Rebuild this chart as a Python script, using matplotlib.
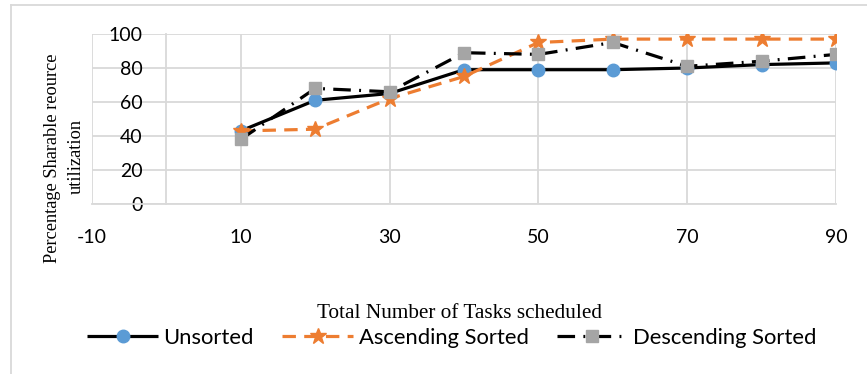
import matplotlib
matplotlib.use("Agg")
import matplotlib.pyplot as plt
from matplotlib.lines import Line2D

plt.rcParams["axes.unicode_minus"] = False

tasks = [10, 20, 30, 40, 50, 60, 70, 80, 90]
unsorted = [43, 61, 65, 79, 79, 79, 80, 82, 83]
ascending = [43, 44, 62, 75, 95, 97, 97, 97, 97]
descending = [38, 68, 66, 89, 88, 95, 81, 84, 88]
series_names = ["Unsorted", "Ascending Sorted", "Descending Sorted"]
x_ticks = [-10, 10, 30, 50, 70, 90]
y_ticks = [0, 20, 40, 60, 80, 100]
ylabel_lines = ["Percentage Sharable reource", "utilization"]
xlabel = "Total Number of Tasks scheduled"

BLUE = "#5B9BD5"
ORANGE = "#ED7D31"
GRAY = "#A5A5A5"
GRID = "#D9D9D9"

fig = plt.figure(figsize=(8.67, 3.74), dpi=100)
ax = fig.add_axes([92/867, 1-204/374, (836-92)/867, (204-34)/374])

ax.plot(tasks, unsorted, color="black", lw=2.3, marker="o", ms=9,
        mfc=BLUE, mec=BLUE, label=series_names[0], zorder=3, solid_capstyle="butt")
ax.plot(tasks, ascending, color=ORANGE, lw=2.3, ls=(0, (4.2, 2.6)), marker="*", ms=12,
        mfc=ORANGE, mec=ORANGE, label=series_names[1], zorder=4)
ax.plot(tasks, descending, color="black", lw=2.3, ls=(0, (5.5, 2.6, 0.6, 2.6)), marker="s", ms=9,
        mfc=GRAY, mec=GRAY, label=series_names[2], zorder=5)

ax.set_xlim(-10, 90)
ax.set_ylim(0, 100)
ax.set_xticks(x_ticks)
ax.set_yticks(y_ticks)
ax.grid(True, color=GRID, lw=1.3)
ax.set_axisbelow(True)
for s in ["top", "right"]:
    ax.spines[s].set_visible(False)
ax.spines["left"].set_position(("data", 0))
ax.spines["left"].set_color(GRID)
ax.spines["left"].set_linewidth(1.3)
ax.spines["bottom"].set_color(GRID)
ax.spines["bottom"].set_linewidth(1.3)
ax.tick_params(axis="both", length=0, labelsize=14)
ax.tick_params(axis="y", pad=17)
ax.tick_params(axis="x", pad=18)
for lab in ax.get_xticklabels() + ax.get_yticklabels():
    lab.set_fontfamily("Lato")

fig.text(53/867, 1-158/374, ylabel_lines[0], rotation=90, ha="center", va="center",
         fontfamily="Liberation Serif", fontsize=13.2)
fig.text(76/867, 1-156/374, ylabel_lines[1], rotation=90, ha="center", va="center",
         fontfamily="Liberation Serif", fontsize=13.2)
fig.text(460/867, 1-314/374, xlabel, ha="center", va="center",
         fontfamily="Liberation Serif", fontsize=15.3)

leg = fig.legend(loc="center", bbox_to_anchor=(452/867, 1-338/374), ncol=3, frameon=False,
                 prop={"family": "Lato", "size": 15.8}, handlelength=3.2, handletextpad=0.27,
                 columnspacing=1.3, borderaxespad=0)

# outer chart frame
fig.add_artist(Line2D([11/867, 11/867], [0, 1-5/374], color=GRID, lw=1.3, transform=fig.transFigure))
fig.add_artist(Line2D([11/867, 1], [1-5/374, 1-5/374], color=GRID, lw=1.3, transform=fig.transFigure))

fig.savefig("out.png", dpi=100)
